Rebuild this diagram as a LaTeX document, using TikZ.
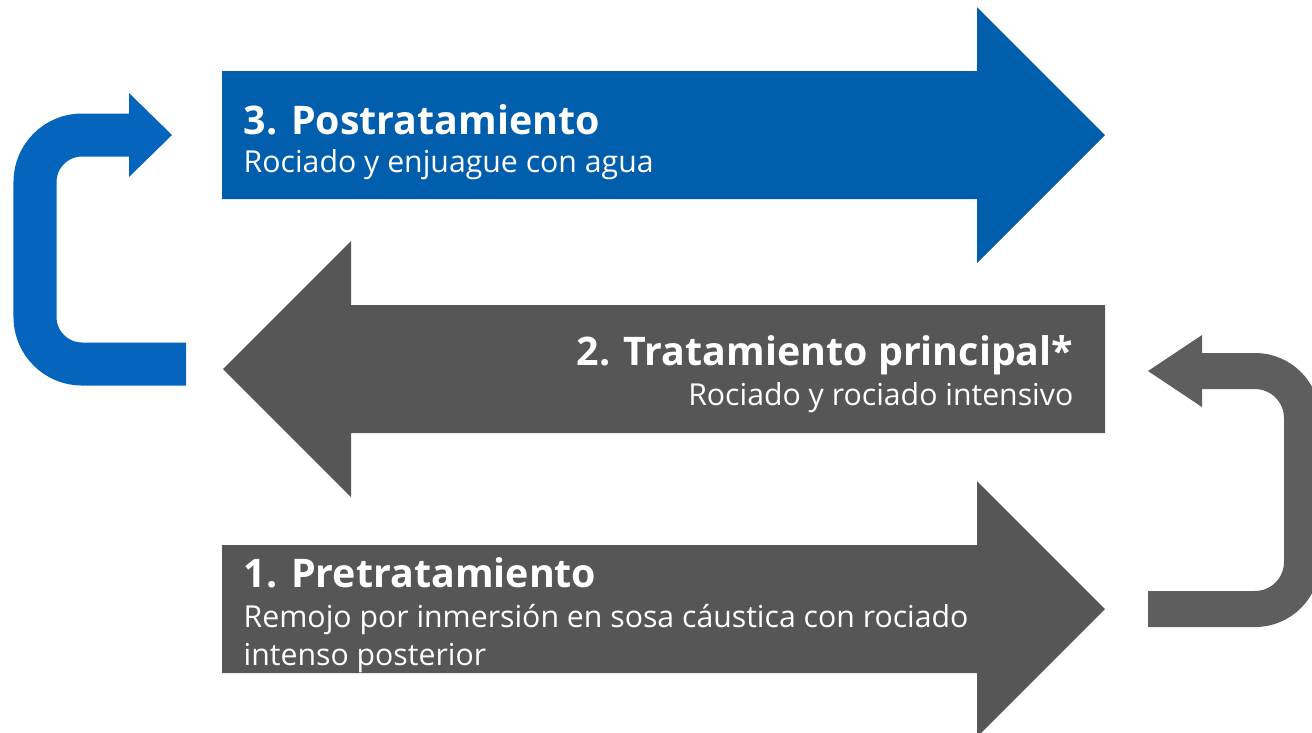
\documentclass[tikz,border=0pt]{standalone}
\usepackage{fontspec}
\setmainfont{Open Sans}
\definecolor{stepblue}{HTML}{005EAD}
\definecolor{stepgray}{HTML}{565656}
\definecolor{loopblue}{HTML}{0565BD}
\definecolor{loopgray}{HTML}{5E5E5E}
\tikzset{
  steptitle/.style={inner sep=0pt, text=white, font=\fontsize{11.2}{13}\selectfont\bfseries},
  steptext/.style={inner sep=0pt, text=white, font=\fontsize{8.6}{10}\selectfont},
  loopband/.style={line width=#1, rounded corners=0.47cm},
}
\begin{document}
\begin{tikzpicture}[x=0.01cm,y=-0.01cm]
  \useasboundingbox (0,0) rectangle (1312,732);
  \clip (0,0) rectangle (1312,732);

  % 3: blue arrow to the right
  \fill[stepblue] (222,71) -- (977,71) -- (977,7) -- (1105,135) -- (977,263)
                  -- (977,199) -- (222,199) -- cycle;
  \node[steptitle, anchor=base west] (post) at (243,134) {3. Postratamiento};
  \node[steptext, anchor=base west] (postsub) at (243,172) {Rociado y enjuague con agua};

  % 2: gray arrow to the left
  \fill[stepgray] (1105,305) -- (351,305) -- (351,241) -- (223,369) -- (351,497)
                  -- (351,433) -- (1105,433) -- cycle;
  \node[steptitle, anchor=base east] (main) at (1074,365) {2. Tratamiento principal*};
  \node[steptext, anchor=base east] (mainsub) at (1074,405) {Rociado y rociado intensivo};

  % 1: gray arrow to the right
  \fill[stepgray] (222,545) -- (977,545) -- (977,481) -- (1105,609) -- (977,737)
                  -- (977,673) -- (222,673) -- cycle;
  \node[steptitle, anchor=base west] (pre) at (243,587) {1. Pretratamiento};
  \node[steptext, anchor=base west] (presub) at (243,627) {Remojo por inmersión en sosa cáustica con rociado};
  \node[steptext, anchor=base west] (presub2) at (243,665) {intenso posterior};

  % left loop: 2 -> 3
  \draw[loopblue, loopband=0.43cm] (186,364) -- (35,364) -- (35,135) -- (130,135);
  \fill[loopblue] (129,93) -- (172,135) -- (129,177) -- cycle;

  % right loop: 1 -> 2
  \draw[loopgray, loopband=0.36cm] (1148,609) -- (1302,609) -- (1302,371) -- (1201,371);
  \fill[loopgray] (1202,335) -- (1148,371) -- (1202,407) -- cycle;
\end{tikzpicture}
\end{document}
